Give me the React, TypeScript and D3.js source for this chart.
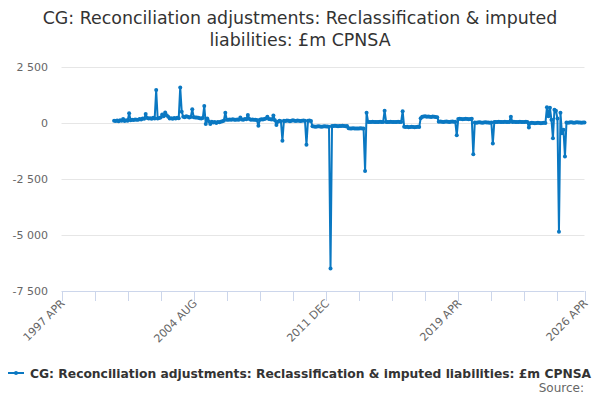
import React, { useRef, useEffect } from "react";
import * as d3 from "d3";

const MONTHS = ["JAN", "FEB", "MAR", "APR", "MAY", "JUN", "JUL", "AUG", "SEP", "OCT", "NOV", "DEC"];

const titleLines = [
    "CG: Reconciliation adjustments: Reclassification & imputed",
    "liabilities: £m CPNSA",
];
const seriesName = "CG: Reconciliation adjustments: Reclassification & imputed liabilities: £m CPNSA";

const axisStart = "1997 APR";
const axisEnd = "2026 APR";
const seriesStart = "2000 MAR";
const tickEveryMonths = 22;
const tickLabels = ["1997 APR", "2004 AUG", "2011 DEC", "2019 APR", "2026 APR"];
const yTicks = [2500, 0, -2500, -5000, -7500];

// monthly values, £m, from seriesStart
const values = [
    100, 90, 110, 80, 120, 100, 180, 90, 120, 100, 430, 120,
    150, 130, 160, 140, 150, 180, 160, 200, 190, 400, 220, 200,
    210, 190, 230, 200, 1470, 200, 220, 250, 380, 300, 470, 350,
    280, 200, 210, 190, 220, 200, 230, 210, 1590, 500, 280, 260,
    300, 280, 250, 270, 610, 260, 240, 250, 230, 210, 200, 220,
    760, -50, 200, 80, -40, 60, 20, 50, 0, 40, 30, 60,
    80, 100, 460, 150, 140, 160, 150, 170, 150, 140, 160, 150,
    240, 160, 150, 180, 170, 360, 180, 150, 160, 140, 150, 130,
    -120, 150, 170, 160, 180, 200, 280, 180, 170, 160, 340, 120,
    -90, 60, 100, 80, -790, 100, 90, 110, 100, 80, 100, 120,
    100, 90, 110, 100, 90, 100, 110, 100, -970, 100, 110, 90,
    -150, -160, -170, -160, -150, -160, -170, -160, -150, -160, -160, -170,
    -6490, -130, -130, -120, -130, -140, -130, -130, -120, -130, -140, -130,
    -230, -240, -240, -230, -240, -250, -240, -240, -230, -240, -240, -2140,
    460, 50, 40, 50, 60, 50, 40, 50, 50, 60, 50, 40,
    550, 50, 40, 50, 60, 50, 50, 40, 50, 60, 50, 50,
    530, -170, -180, -170, -190, -180, -170, -180, -190, -180, -170, -180,
    210, 280, 290, 300, 280, 290, 280, 270, 290, 280, 270, 260,
    60, 70, 60, 50, 60, 70, 60, 50, 60, 70, 60, 60,
    -550, 180, 190, 180, 170, 180, 190, 180, 170, 180, 190, -1400,
    20, 10, 20, 30, 20, 10, 20, 30, 20, 20, 10, 20,
    -920, 50, 40, 50, 60, 50, 40, 50, 60, 50, 40, 50,
    280, 50, 60, 50, 40, 50, 60, 50, 40, 50, 60, 50,
    -200, 0, 10, 0, -10, 0, 10, 0, -10, 0, 10, 0,
    700, 300, 680, 150, -680, 590, 550, 200, -4850, 460, -460, -300,
    -1500, 20, 10, 20, 30, 20, 10, 20, 30, 20, 20, 10,
    20, 20,
];

const monthNo = (label: string) => {
    const [y, m] = label.split(" ");
    return +y * 12 + MONTHS.indexOf(m);
};

const FONT = "'DejaVu Sans', sans-serif";
const BLUE = "#0a78c2";

export default function App() {
    const ref = useRef<SVGSVGElement | null>(null);

    useEffect(() => {
        if (!ref.current) return;
        const svg = d3.select(ref.current);
        svg.selectAll("*").remove();

        const width = 600, height = 400;
        const plot = { left: 61.5, right: 584.5, top: 67, bottom: 291 };

        const base = monthNo(axisStart);
        const last = monthNo(axisEnd) - base;
        const first = monthNo(seriesStart) - base;

        const x = d3.scaleLinear().domain([0, last]).range([plot.left, plot.right]);
        const y = d3.scaleLinear().domain([-7500, 2500]).range([plot.bottom, plot.top]);

        svg.attr("width", width).attr("height", height);

        svg.append("rect").attr("width", width).attr("height", height).attr("fill", "white");

        // Titel
        svg.selectAll(".title")
            .data(titleLines)
            .enter()
            .append("text")
            .attr("x", width / 2)
            .attr("y", (d, i) => 24 + i * 22)
            .attr("text-anchor", "middle")
            .style("font-family", FONT)
            .style("font-size", "17.4px")
            .style("fill", "#333333")
            .text((d) => d);

        // Gitterlinien + y-Labels
        svg.selectAll(".grid")
            .data(yTicks.filter((t) => t !== -7500))
            .enter()
            .append("line")
            .attr("x1", plot.left)
            .attr("x2", plot.right)
            .attr("y1", (d) => Math.round(y(d)) + 0.5)
            .attr("y2", (d) => Math.round(y(d)) + 0.5)
            .style("stroke", "#e6e6e6");

        svg.selectAll(".y-label")
            .data(yTicks)
            .enter()
            .append("text")
            .attr("x", 48)
            .attr("y", (d) => y(d) + 4)
            .attr("text-anchor", "end")
            .style("font-family", FONT)
            .style("font-size", "11px")
            .style("fill", "#666666")
            .text((d) => d3.format(",")(d).replace(/,/g, " ").replace("−", "-"));

        // x-Achse
        svg.append("line")
            .attr("x1", plot.left)
            .attr("x2", plot.right)
            .attr("y1", plot.bottom + 0.5)
            .attr("y2", plot.bottom + 0.5)
            .style("stroke", "#ccd6eb");

        const tickIdx = d3.range(0, last, tickEveryMonths).concat([last]);
        svg.selectAll(".x-tick")
            .data(tickIdx)
            .enter()
            .append("line")
            .attr("x1", (d) => Math.round(x(d)) + 0.5)
            .attr("x2", (d) => Math.round(x(d)) + 0.5)
            .attr("y1", plot.bottom)
            .attr("y2", plot.bottom + 10)
            .style("stroke", "#ccd6eb");

        svg.selectAll(".x-label")
            .data(tickLabels)
            .enter()
            .append("text")
            .attr("transform", (d) => `translate(${x(monthNo(d) - base) + 4},${plot.bottom + 13}) rotate(-45)`)
            .attr("text-anchor", "end")
            .style("font-family", FONT)
            .style("font-size", "11px")
            .style("fill", "#666666")
            .text((d) => d);

        // Linie
        const pts = values.map((v, i) => ({ i: first + i, v }));
        const line = d3.line<{ i: number; v: number }>()
            .x((d) => x(d.i))
            .y((d) => y(d.v));

        svg.append("path")
            .datum(pts)
            .attr("d", line)
            .style("fill", "none")
            .style("stroke", BLUE)
            .style("stroke-width", 2)
            .style("stroke-linejoin", "round");

        svg.selectAll(".pt")
            .data(pts)
            .enter()
            .append("circle")
            .attr("cx", (d) => x(d.i))
            .attr("cy", (d) => y(d.v))
            .attr("r", 2)
            .style("fill", BLUE);

        // Legende
        svg.append("line")
            .attr("x1", 8).attr("x2", 24)
            .attr("y1", 373).attr("y2", 373)
            .style("stroke", BLUE)
            .style("stroke-width", 2);
        svg.append("circle")
            .attr("cx", 16).attr("cy", 373).attr("r", 2)
            .style("fill", BLUE);
        svg.append("text")
            .attr("x", 30)
            .attr("y", 377.5)
            .style("font-family", FONT)
            .style("font-size", "12.3px")
            .style("font-weight", "bold")
            .style("fill", "#333333")
            .text(seriesName);

        svg.append("text")
            .attr("x", 584)
            .attr("y", 392)
            .attr("text-anchor", "end")
            .style("font-family", FONT)
            .style("font-size", "12px")
            .style("fill", "#666666")
            .text("Source:");
    }, []);

    return (
        <div style={{ position: "absolute", left: 0, top: 0 }}>
            <svg ref={ref} style={{ display: "block" }} />
        </div>
    );
}
